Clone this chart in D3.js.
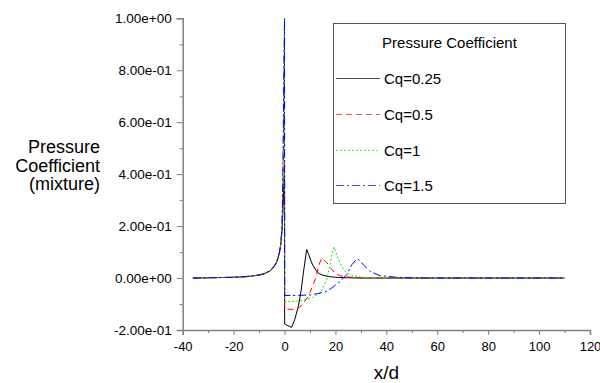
<!DOCTYPE html>
<html>
<head>
<meta charset="utf-8">
<script src="https://cdn.jsdelivr.net/npm/d3@7"></script>
<style>
  body { margin: 0; background: #fff; }
  svg { display: block; }
  svg text { font-family: "Liberation Sans", Arial, sans-serif; }
</style>
</head>
<body>
<svg id="chart" width="600" height="383"></svg>
<script>
// values
var seriesNames = ['Cq=0.25', 'Cq=0.5', 'Cq=1', 'Cq=1.5'];

var xCq025 = [-36, -30, -25, -20, -15, -10, -8, -6, -5, -4, -3, -2, -1.5, -1, -0.6, -0.3, 0, 0.05, 1, 2.8, 4, 5.4, 6.5, 7.4, 8.7, 9.7, 10.7, 12, 13.3, 15, 17.2, 20, 25, 30, 40, 60, 80, 110];
var yCq025 = [0, 0.001, 0.002, 0.003, 0.005, 0.011, 0.016, 0.025, 0.033, 0.045, 0.062, 0.095, 0.125, 0.18, 0.26, 0.35, 0.41, -0.176, -0.182, -0.19, -0.16, -0.11, -0.05, 0.02, 0.11, 0.085, 0.058, 0.035, 0.019, 0.011, 0.006, 0.003, 0.001, 0, 0, 0, 0, 0];

var xCq05 = [-36, -30, -25, -20, -15, -10, -8, -6, -5, -4, -3, -2, -1.5, -1, -0.7, -0.4, -0.2, 0, 0.05, 2, 4.1, 6, 7.5, 9.4, 12, 13.5, 14.6, 15.6, 16.6, 18, 19.8, 22, 25, 30, 40, 60, 80, 110];
var yCq05 = [0, 0.001, 0.002, 0.003, 0.006, 0.012, 0.017, 0.027, 0.035, 0.047, 0.065, 0.1, 0.13, 0.19, 0.3, 0.5, 0.72, 0.91, -0.119, -0.12, -0.12, -0.112, -0.095, -0.07, -0.007, 0.05, 0.077, 0.068, 0.06, 0.04, 0.019, 0.009, 0.004, 0.001, 0, 0, 0, 0];

var xCq1 = [-36, -30, -25, -20, -15, -10, -8, -6, -5, -4, -3, -2, -1.5, -1, -0.8, -0.6, -0.4, -0.2, 0, 0.05, 4, 8.7, 11, 14, 15.5, 16.6, 17.6, 18.5, 19.4, 20.5, 21.8, 23, 24.4, 27, 30, 35, 45, 60, 80, 110];
var yCq1 = [0, 0.001, 0.002, 0.003, 0.006, 0.012, 0.017, 0.027, 0.035, 0.047, 0.065, 0.1, 0.13, 0.19, 0.3, 0.45, 0.65, 0.85, 1.0, -0.09, -0.09, -0.083, -0.075, -0.058, -0.03, -0.006, 0.04, 0.083, 0.119, 0.09, 0.058, 0.035, 0.019, 0.009, 0.004, 0.001, 0, 0, 0, 0];

var xCq15 = [-36, -30, -25, -20, -15, -10, -8, -6, -5, -4, -3, -2, -1.5, -1, -0.8, -0.6, -0.4, -0.2, 0, 0.05, 5, 10, 13, 16.6, 19, 21.8, 24.4, 26.4, 28.4, 29.5, 31, 33.6, 37.5, 44, 50, 60, 80, 110];
var yCq15 = [0, 0.001, 0.002, 0.003, 0.006, 0.012, 0.017, 0.027, 0.035, 0.047, 0.065, 0.1, 0.13, 0.19, 0.3, 0.45, 0.65, 0.85, 1.0, -0.067, -0.067, -0.065, -0.06, -0.051, -0.035, -0.013, 0.013, 0.051, 0.074, 0.068, 0.051, 0.026, 0.009, 0.003, 0.001, 0, 0, 0];

var xTicks = [-40, -20, 0, 20, 40, 60, 80, 100, 120];
var xMinorTicks = [-30, -10, 10, 30, 50, 70, 90, 110];
var yTicks = [-0.2, 0, 0.2, 0.4, 0.6, 0.8, 1.0];
var yMinorTicks = [-0.1, 0.1, 0.3, 0.5, 0.7, 0.9];

var colors = ['#000000', '#ff0000', '#00ee00', '#0000ff'];
var dashes = [null, '6,4', '2,2', '8,3,2,3'];

var FONT = '"Liberation Sans", Arial, sans-serif';
var svg = d3.select('#chart');

var x = d3.scaleLinear().domain([-40, 120]).range([182.7, 590]);
var y = d3.scaleLinear().domain([-0.2, 1]).range([330, 18.3]);

// plain hyphen minus, like the original
var loc = d3.formatLocale({decimal: '.', thousands: ',', grouping: [3], currency: ['', ''], minus: '-'});

// 1.00e+00 style labels
var fmt = function(v) {
    if (Math.abs(v) < 1e-12) v = 0;
    return loc.format('.2e')(v).replace(/e([+-])(\d)$/, 'e$10$2');
};

var series = [
    {name: seriesNames[0], x: xCq025, y: yCq025},
    {name: seriesNames[1], x: xCq05, y: yCq05},
    {name: seriesNames[2], x: xCq1, y: yCq1},
    {name: seriesNames[3], x: xCq15, y: yCq15}
].map(function(s, i) {
    s.points = s.x.map(function(xv, j) { return [xv, s.y[j]]; });
    s.color = colors[i];
    s.dash = dashes[i];
    return s;
});

// axes
var xAxis = svg.append('g')
    .attr('transform', 'translate(0,330)')
    .call(d3.axisBottom(x).tickValues(xTicks).tickSize(5).tickPadding(7).tickFormat(loc.format('d')));
var xMinor = svg.append('g')
    .attr('transform', 'translate(0,330)')
    .call(d3.axisBottom(x).tickValues(xMinorTicks).tickSize(3).tickFormat(''));
var yAxis = svg.append('g')
    .attr('transform', 'translate(182.7,0)')
    .call(d3.axisLeft(y).tickValues(yTicks).tickSize(6).tickPadding(5).tickFormat(fmt));
var yMinor = svg.append('g')
    .attr('transform', 'translate(182.7,0)')
    .call(d3.axisLeft(y).tickValues(yMinorTicks).tickSize(3).tickFormat(''));

[xAxis, xMinor, yAxis, yMinor].forEach(function(g) {
    g.attr('font-family', FONT).attr('font-size', 13);
    g.selectAll('path').attr('stroke', '#808080').attr('stroke-width', 1.5);
    g.selectAll('line').attr('stroke', '#808080').attr('stroke-width', 1);
    g.selectAll('text').attr('fill', '#000');
});
yAxis.attr('font-size', 13.5);
xMinor.select('path').remove();
yMinor.select('path').remove();

// curves
var line = d3.line()
    .x(function(d) { return x(d[0]); })
    .y(function(d) { return y(d[1]); });

svg.append('g').selectAll('path')
    .data(series)
    .enter().append('path')
    .attr('d', function(d) { return line(d.points); })
    .attr('fill', 'none')
    .attr('stroke', function(d) { return d.color; })
    .attr('stroke-width', 1)
    .attr('stroke-dasharray', function(d) { return d.dash; });

// axis titles
svg.append('text')
    .attr('x', 386.5).attr('y', 379)
    .attr('text-anchor', 'middle')
    .attr('font-family', FONT)
    .attr('font-size', 19)
    .text('x/d');

var yTitle = ['Pressure', 'Coefficient', '(mixture)'];
svg.append('g').selectAll('text')
    .data(yTitle)
    .enter().append('text')
    .attr('x', 100)
    .attr('y', function(d, i) { return 153 + i * 18.5; })
    .attr('text-anchor', 'end')
    .attr('font-family', FONT)
    .attr('font-size', 18)
    .text(function(d) { return d; });

// legend
var legend = svg.append('g').attr('font-family', FONT);
legend.append('rect')
    .attr('x', 333.5).attr('y', 23.5)
    .attr('width', 232).attr('height', 180)
    .attr('fill', '#fff')
    .attr('stroke', '#555')
    .attr('stroke-width', 1);
legend.append('text')
    .attr('x', 449.5).attr('y', 48)
    .attr('text-anchor', 'middle')
    .attr('font-size', 15)
    .text('Pressure Coefficient');

var legendRows = [78, 114, 150, 185];
var items = legend.selectAll('.item')
    .data(series)
    .enter().append('g')
    .attr('class', 'item')
    .attr('transform', function(d, i) { return 'translate(0,' + legendRows[i] + ')'; });
items.append('line')
    .attr('x1', 336).attr('x2', 380)
    .attr('y1', 0.5).attr('y2', 0.5)
    .attr('stroke', function(d) { return d.color; })
    .attr('stroke-opacity', 0.7)
    .attr('stroke-dasharray', function(d) { return d.dash; });
items.append('text')
    .attr('x', 384).attr('y', 5.5)
    .attr('font-size', 15)
    .text(function(d) { return d.name; });
</script>
</body>
</html>
